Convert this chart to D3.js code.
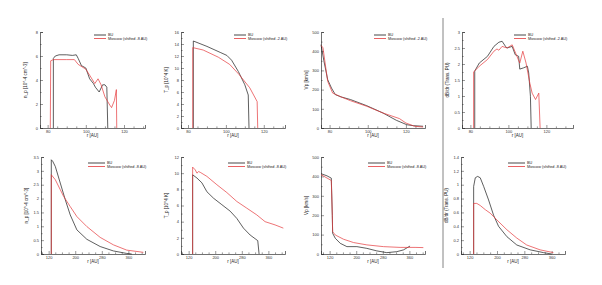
<!DOCTYPE html>
<html><head><meta charset="utf-8">
<script src="https://cdn.jsdelivr.net/npm/d3@7"></script>
<style>body{margin:0;background:#fff}svg{display:block}text{font-family:"Liberation Sans",Arial,sans-serif}</style>
</head><body>
<svg id="c" width="602" height="285"></svg>
<script>
// ---------- data ----------
const seriesNames = ["BU", "Moscow (shifted -2 AU)", "Moscow (shifted -8 AU)"];
const yLabels = ["n_p [10^-4 cm^-3]", "T_p [10^4 K]", "Vp [km/s]", "dB/dr (Trans. PU)",
                 "n_p [10^-4 cm^-3]", "T_p [10^4 K]", "Vp [km/s]", "dB/dr (Trans. PU)"];
const xLabel = "r [AU]";
const xTicksTop = [80, 100, 120];
const xTicksBottom = [120, 200, 280, 360];
const yTicks1 = [0, 2, 4, 6, 8];
const yTicks2 = [0, 2, 4, 6, 8, 10, 12, 14, 16];
const yTicks3 = [0, 100, 200, 300, 400, 500];
const yTicks4 = [0, 0.5, 1, 1.5, 2, 2.5, 3];
const yTicks5 = [0, 0.5, 1, 1.5, 2, 2.5, 3, 3.5];
const yTicks6 = [0, 2, 4, 6, 8, 10, 12];
const yTicks7 = [0, 100, 200, 300, 400, 500];
const yTicks8 = [0, 0.2, 0.4, 0.6, 0.8, 1, 1.2, 1.4];

const p1BU = [[83,0],[83,5.8],[84,6.0],[86,6.1],[90,6.1],[93,6.05],[95,6.1],[96,5.8],[97.7,5.2],[100,5.0],[102,4.1],[104,3.7],[105,3.4],[107,3.0],[108.8,3.6],[110,3.6],[111,3.4],[111.5,0]];
const p1MS = [[81.4,0],[81.6,5.6],[83,5.7],[90,5.7],[94,5.7],[96,5.3],[98,5.1],[100,4.9],[102,4.4],[104.7,3.7],[106.4,4.1],[108,3.6],[110,2.6],[112.6,1.9],[113.5,1.7],[115,2.3],[116,3.2],[116.2,0]];
const p2BU = [[82.8,0],[82.8,14.5],[90,13.6],[97,12.6],[100.5,12.1],[103,11.3],[106.6,9.4],[110,7.2],[111.8,5.5],[112.2,0]];
const p2MS = [[82.5,0],[82.5,13.4],[88,13.0],[96,11.8],[102,10.6],[107,8.9],[112.6,6.7],[116.5,4.4],[116.8,0]];
const p3BU = [[75.5,434],[77,350],[79,252],[81,208],[83,174],[86,162],[91,148],[99.5,116],[108,78],[115,40],[120.5,17],[124,12],[129,9]];
const p3MS = [[75.5,429],[76.5,420],[79,243],[81.6,182],[86,162],[91,142],[99.5,113],[108,78],[116.6,49],[120,26],[124.5,9],[129,5]];
const p4BU = [[82.3,0],[82.3,1.78],[84.7,2.03],[89,2.24],[92.4,2.55],[95,2.68],[96.7,2.71],[98.5,2.55],[99.3,2.5],[102,2.55],[103.6,2.29],[105.4,2.24],[106,1.84],[108,1.88],[110,1.93],[110.7,1.72],[111.6,0.99],[112,0]];
const p4MS = [[81.7,0],[81.7,1.75],[84.7,1.93],[89,2.14],[92.4,2.4],[94,2.47],[95,2.43],[96.7,2.55],[99.3,2.5],[102,2.6],[104.5,2.24],[106,2.03],[107.6,2.4],[109.3,2.03],[111.3,1.4],[112.5,1.09],[114.3,0.89],[116,1.09],[116.7,0]];
const p5BU = [[128,0],[128,3.4],[132,3.35],[140,3.16],[155,2.56],[170,1.96],[185,1.41],[205,0.87],[235,0.53],[275,0.27],[315,0.11],[355,0.02],[370,0]];
const p5MS = [[128,0],[128,2.86],[140,2.68],[155,2.32],[165,2.08],[185,1.71],[205,1.35],[235,0.99],[275,0.6],[315,0.33],[355,0.14],[405,0.06]];
const p6BU = [[132,0],[132,9.8],[145,9.4],[160,8.8],[175,7.7],[195,6.9],[220,6.1],[245,5.3],[265,4.4],[285,3.2],[305,2.35],[328,1.65],[332,0]];
const p6MS = [[132,0],[132,10.75],[140,10.4],[145,10.0],[150,10.2],[155,10.1],[175,9.6],[205,8.57],[235,7.6],[265,6.5],[295,5.67],[325,4.84],[350,4.0],[380,3.6],[405,3.2]];
const p7BU = [[94,414],[112,403],[125,391],[128,200],[129,107],[137,81],[152,55],[172,38],[202,38],[232,29],[262,16],[292,7],[322,12],[342,21],[362,41]];
const p7MS = [[94,409],[125,379],[128,200],[129,115],[137,98],[162,76],[192,59],[232,47],[282,38],[332,34],[377,34],[402,33]];
const p8BU = [[131.7,0],[131.7,0.975],[136.5,1.1],[143.3,1.12],[151,1.1],[161,0.975],[175.4,0.78],[190,0.56],[204.6,0.4],[229,0.25],[258,0.13],[297,0.06],[336,0.02],[360,0]];
const p8MS = [[131.7,0],[131.7,0.73],[141,0.73],[151,0.7],[165.7,0.64],[180,0.59],[200,0.49],[229,0.35],[258,0.23],[287,0.13],[326,0.06],[365,0.02]];

// ---------- layout ----------
const panels = [
  {box:[40,145,32,128], xd:[76,131], yd:[0,8], xt:xTicksTop, yt:yTicks1, bu:p1BU, ms:p1MS, leg:2, lx:94, ly:35},
  {box:[181,285,32,128], xd:[76.3,131.2], yd:[0,16], xt:xTicksTop, yt:yTicks2, bu:p2BU, ms:p2MS, leg:1, lx:234, ly:35},
  {box:[321,425,32,128], xd:[75.5,130], yd:[0,500], xt:xTicksTop, yt:yTicks3, bu:p3BU, ms:p3MS, leg:1, lx:374, ly:35},
  {box:[462,573,32,128], xd:[75.6,134], yd:[0,3], xt:xTicksTop, yt:yTicks4, bu:p4BU, ms:p4MS, leg:1, lx:514, ly:35},
  {box:[41,145,157,254], xd:[97,410], yd:[0,3.5], xt:xTicksBottom, yt:yTicks5, bu:p5BU, ms:p5MS, leg:2, lx:88, ly:163},
  {box:[181,285,157,254], xd:[97,410], yd:[0,12], xt:xTicksBottom, yt:yTicks6, bu:p6BU, ms:p6MS, leg:2, lx:228, ly:163},
  {box:[321,425,157,254], xd:[94,407], yd:[0,500], xt:xTicksBottom, yt:yTicks7, bu:p7BU, ms:p7MS, leg:2, lx:368, ly:163},
  {box:[461,565,157,254], xd:[94.7,399], yd:[0,1.4], xt:xTicksBottom, yt:yTicks8, bu:p8BU, ms:p8MS, leg:2, lx:508, ly:163}
];
const RED = "#e5383b", BLACK = "#1a1a1a";
const svg = d3.select("#c");

// separator
svg.append("line").attr("x1",443).attr("x2",443).attr("y1",18).attr("y2",268)
   .attr("stroke","#666").attr("stroke-width",0.8);

panels.forEach((p,i)=>{
  const [L,R,T,B] = p.box;
  const x = d3.scaleLinear().domain(p.xd).range([L,R]);
  const y = d3.scaleLinear().domain(p.yd).range([B,T]);
  const g = svg.append("g");
  // minor ticks
  const ys = p.yt[1]-p.yt[0], xs = p.xt[1]-p.xt[0];
  const yMinor = d3.range(p.yd[0], p.yd[1]+1e-9, ys/2).filter(v=>!p.yt.some(t=>Math.abs(t-v)<1e-9));
  const xMinor = d3.range(Math.ceil(p.xd[0]/(xs/4))*(xs/4), p.xd[1], xs/4).filter(v=>!p.xt.some(t=>Math.abs(t-v)<1e-9));
  const yAx = d3.axisLeft(y).tickValues(p.yt).tickSize(-3).tickPadding(2).tickFormat(d3.format("~g"));
  const xAx = d3.axisBottom(x).tickValues(p.xt).tickSize(-3).tickPadding(2).tickFormat(d3.format("~g"));
  const ga = g.append("g").attr("transform",`translate(${L},0)`).call(yAx);
  const gb = g.append("g").attr("transform",`translate(0,${B})`).call(xAx);
  g.append("g").attr("transform",`translate(${L},0)`).call(d3.axisLeft(y).tickValues(yMinor).tickSize(-1.6).tickFormat(""))
    .call(s=>s.select(".domain").remove());
  g.append("g").attr("transform",`translate(0,${B})`).call(d3.axisBottom(x).tickValues(xMinor).tickSize(-1.6).tickFormat(""))
    .call(s=>s.select(".domain").remove());
  g.selectAll(".domain").attr("stroke","#333").attr("stroke-width",0.7);
  g.selectAll(".tick line").attr("stroke","#333").attr("stroke-width",0.5);
  g.selectAll(".tick text").attr("font-size",4).attr("fill","#333").attr("font-family","Liberation Sans, Arial, sans-serif");
  // axis labels
  g.append("text").attr("x",(L+R)/2).attr("y",B+9).attr("text-anchor","middle")
    .attr("font-size",4.5).attr("fill","#222").text(xLabel);
  g.append("text").attr("transform",`translate(${L-13},${(T+B)/2}) rotate(-90)`).attr("text-anchor","middle")
    .attr("font-size",4.5).attr("fill","#222").text(yLabels[i]);
  // lines
  const line = d3.line().x(d=>x(d[0])).y(d=>y(d[1]));
  g.append("path").datum(p.bu).attr("d",line).attr("fill","none").attr("stroke",BLACK).attr("stroke-width",0.7);
  g.append("path").datum(p.ms).attr("d",line).attr("fill","none").attr("stroke",RED).attr("stroke-width",0.7);
  // legend
  const lw = i>=4 ? 17 : 12;
  [[BLACK, seriesNames[0]],[RED, seriesNames[p.leg]]].forEach((e,k)=>{
    const yy = p.ly + k*3.5;
    g.append("line").attr("x1",p.lx).attr("x2",p.lx+lw).attr("y1",yy).attr("y2",yy)
      .attr("stroke",e[0]).attr("stroke-width",0.8);
    g.append("text").attr("x",p.lx+lw+2).attr("y",yy+1.3).attr("font-size",3.8).attr("fill","#222").text(e[1]);
  });
});
</script>
</body></html>
